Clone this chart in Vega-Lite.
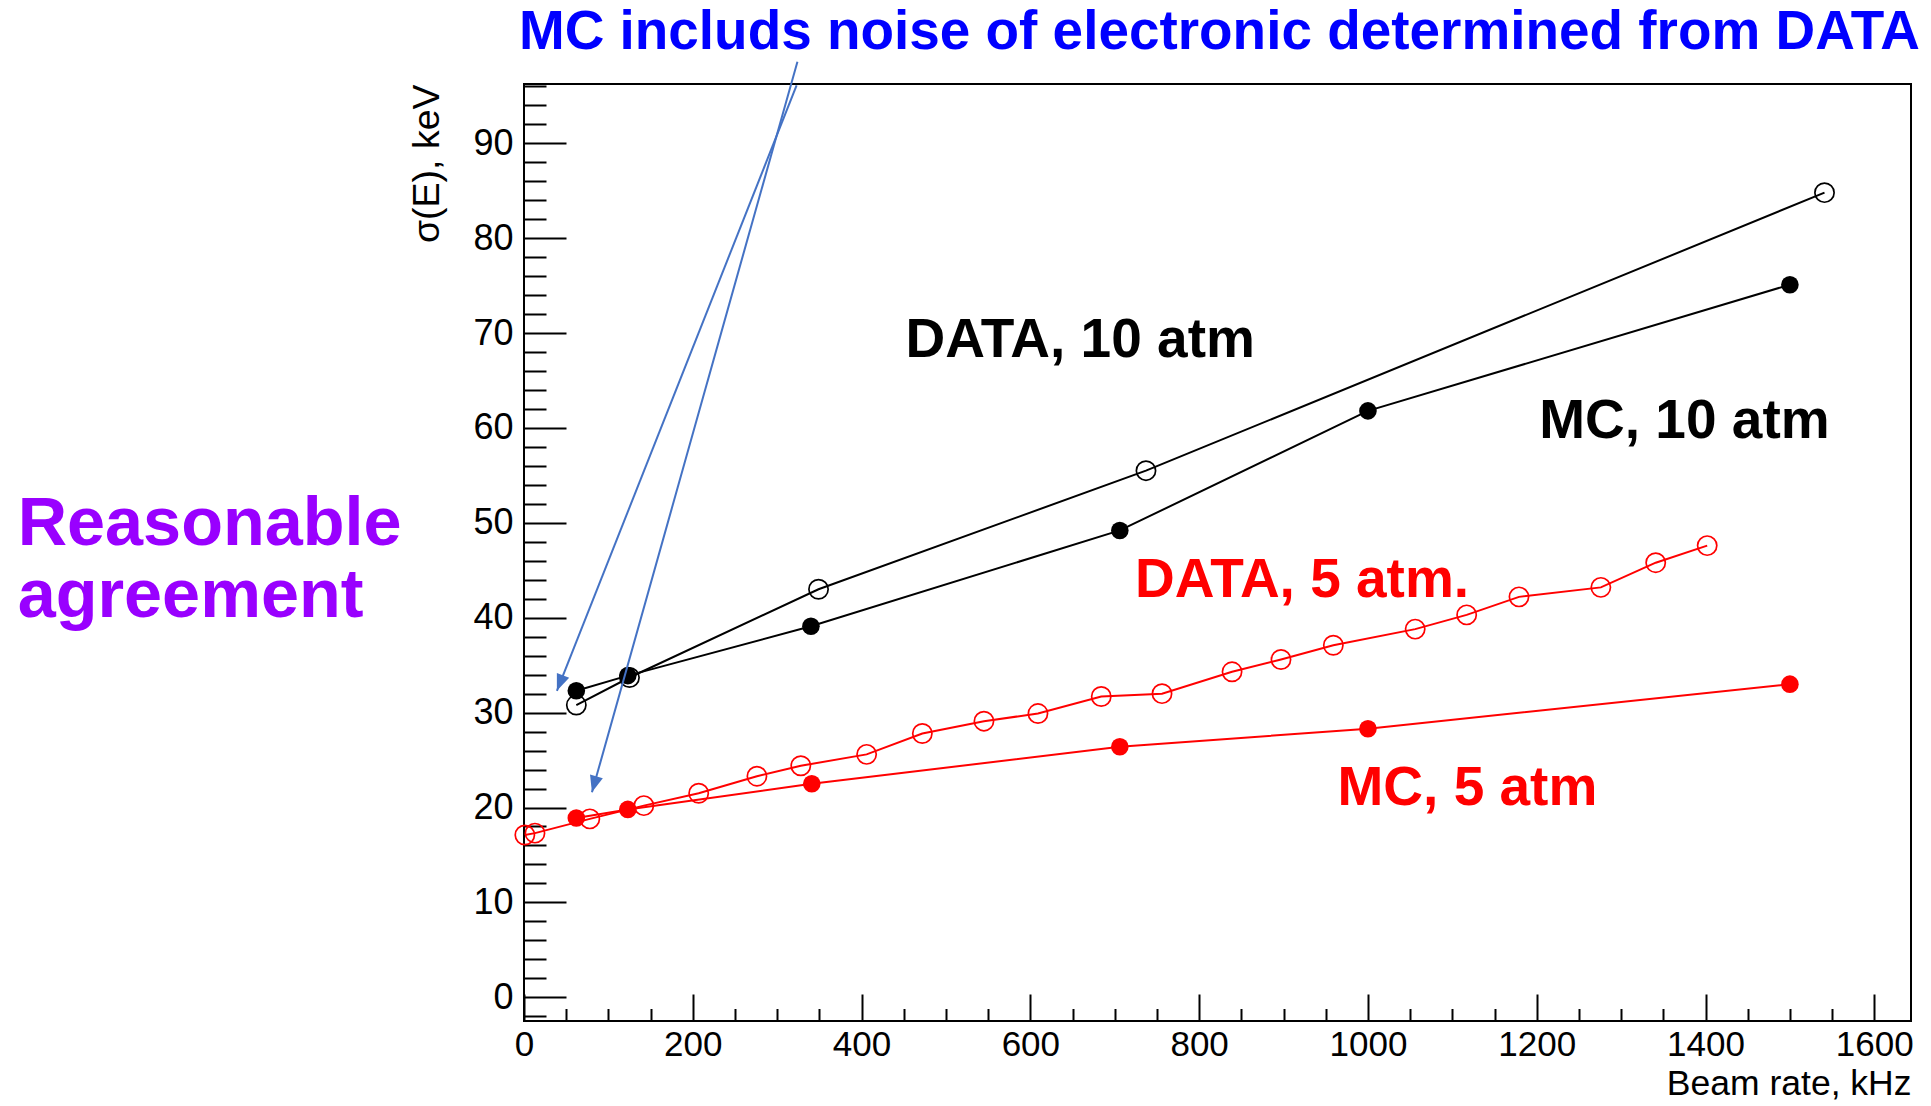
{
  "$schema": "https://vega.github.io/schema/vega-lite/v6.json",
  "width": 1387,
  "height": 937,
  "autosize": {"type": "none"},
  "padding": {"left": 524, "top": 84, "right": 20, "bottom": 85},
  "background": "white",
  "config": {
    "view": {"stroke": "#000000", "strokeWidth": 2},
    "axis": {"grid": false},
    "font": "Liberation Sans"
  },
  "datasets": {
    "points": [
      {"series": "DATA, 10 atm", "kind": "DATA", "gas": "10 atm", "rate": 62, "sigma": 30.8},
      {"series": "DATA, 10 atm", "kind": "DATA", "gas": "10 atm", "rate": 125, "sigma": 33.7},
      {"series": "DATA, 10 atm", "kind": "DATA", "gas": "10 atm", "rate": 349, "sigma": 43.0},
      {"series": "DATA, 10 atm", "kind": "DATA", "gas": "10 atm", "rate": 737, "sigma": 55.5},
      {"series": "DATA, 10 atm", "kind": "DATA", "gas": "10 atm", "rate": 1541, "sigma": 84.8},
      {"series": "MC, 10 atm", "kind": "MC", "gas": "10 atm", "rate": 62, "sigma": 32.3},
      {"series": "MC, 10 atm", "kind": "MC", "gas": "10 atm", "rate": 123, "sigma": 33.9},
      {"series": "MC, 10 atm", "kind": "MC", "gas": "10 atm", "rate": 340, "sigma": 39.1},
      {"series": "MC, 10 atm", "kind": "MC", "gas": "10 atm", "rate": 706, "sigma": 49.2},
      {"series": "MC, 10 atm", "kind": "MC", "gas": "10 atm", "rate": 1000, "sigma": 61.8},
      {"series": "MC, 10 atm", "kind": "MC", "gas": "10 atm", "rate": 1500, "sigma": 75.1},
      {"series": "DATA, 5 atm", "kind": "DATA", "gas": "5 atm", "rate": 1, "sigma": 17.1},
      {"series": "DATA, 5 atm", "kind": "DATA", "gas": "5 atm", "rate": 13, "sigma": 17.3},
      {"series": "DATA, 5 atm", "kind": "DATA", "gas": "5 atm", "rate": 78, "sigma": 18.8},
      {"series": "DATA, 5 atm", "kind": "DATA", "gas": "5 atm", "rate": 142, "sigma": 20.2},
      {"series": "DATA, 5 atm", "kind": "DATA", "gas": "5 atm", "rate": 207, "sigma": 21.5},
      {"series": "DATA, 5 atm", "kind": "DATA", "gas": "5 atm", "rate": 276, "sigma": 23.3},
      {"series": "DATA, 5 atm", "kind": "DATA", "gas": "5 atm", "rate": 328, "sigma": 24.4},
      {"series": "DATA, 5 atm", "kind": "DATA", "gas": "5 atm", "rate": 406, "sigma": 25.6},
      {"series": "DATA, 5 atm", "kind": "DATA", "gas": "5 atm", "rate": 472, "sigma": 27.8},
      {"series": "DATA, 5 atm", "kind": "DATA", "gas": "5 atm", "rate": 545, "sigma": 29.1},
      {"series": "DATA, 5 atm", "kind": "DATA", "gas": "5 atm", "rate": 609, "sigma": 29.9},
      {"series": "DATA, 5 atm", "kind": "DATA", "gas": "5 atm", "rate": 684, "sigma": 31.7},
      {"series": "DATA, 5 atm", "kind": "DATA", "gas": "5 atm", "rate": 756, "sigma": 32.0},
      {"series": "DATA, 5 atm", "kind": "DATA", "gas": "5 atm", "rate": 839, "sigma": 34.3},
      {"series": "DATA, 5 atm", "kind": "DATA", "gas": "5 atm", "rate": 897, "sigma": 35.6},
      {"series": "DATA, 5 atm", "kind": "DATA", "gas": "5 atm", "rate": 959, "sigma": 37.1},
      {"series": "DATA, 5 atm", "kind": "DATA", "gas": "5 atm", "rate": 1056, "sigma": 38.8},
      {"series": "DATA, 5 atm", "kind": "DATA", "gas": "5 atm", "rate": 1117, "sigma": 40.3},
      {"series": "DATA, 5 atm", "kind": "DATA", "gas": "5 atm", "rate": 1179, "sigma": 42.2},
      {"series": "DATA, 5 atm", "kind": "DATA", "gas": "5 atm", "rate": 1276, "sigma": 43.2},
      {"series": "DATA, 5 atm", "kind": "DATA", "gas": "5 atm", "rate": 1341, "sigma": 45.8},
      {"series": "DATA, 5 atm", "kind": "DATA", "gas": "5 atm", "rate": 1402, "sigma": 47.6},
      {"series": "MC, 5 atm", "kind": "MC", "gas": "5 atm", "rate": 62, "sigma": 18.9},
      {"series": "MC, 5 atm", "kind": "MC", "gas": "5 atm", "rate": 123, "sigma": 19.8},
      {"series": "MC, 5 atm", "kind": "MC", "gas": "5 atm", "rate": 341, "sigma": 22.5},
      {"series": "MC, 5 atm", "kind": "MC", "gas": "5 atm", "rate": 706, "sigma": 26.4},
      {"series": "MC, 5 atm", "kind": "MC", "gas": "5 atm", "rate": 1000, "sigma": 28.3},
      {"series": "MC, 5 atm", "kind": "MC", "gas": "5 atm", "rate": 1500, "sigma": 33.0}
    ],
    "labels": [
      {"text": "DATA, 10 atm", "rate": 452, "sigma": 67.5, "gas": "10 atm"},
      {"text": "MC, 10 atm", "rate": 1203, "sigma": 58.9, "gas": "10 atm"},
      {"text": "DATA, 5 atm.", "rate": 724, "sigma": 42.2, "gas": "5 atm"},
      {"text": "MC, 5 atm", "rate": 964, "sigma": 20.3, "gas": "5 atm"}
    ],
    "notes": [
      {"note": "agreement", "text": "Reasonable", "rate": -600, "sigma": 47.67},
      {"note": "agreement", "text": "agreement", "rate": -600, "sigma": 40.1},
      {"note": "title", "text": "MC includs noise of electronic determined from DATA", "rate": -6, "sigma": 99.9}
    ],
    "arrows": [
      {"arrow": 1, "start_rate": 323, "start_sigma": 96.1, "tip_rate": 39, "tip_sigma": 32.3},
      {"arrow": 2, "start_rate": 324, "start_sigma": 98.6, "tip_rate": 80.5, "tip_sigma": 21.6}
    ]
  },
  "resolve": {"axis": {"x": "independent", "y": "independent"}},
  "layer": [
    {
      "data": {"name": "points"},
      "mark": {"type": "line", "strokeWidth": 2},
      "encoding": {
        "x": {
          "field": "rate", "type": "quantitative",
          "scale": {"domain": [0, 1643.5], "nice": false, "zero": false},
          "axis": {
            "orient": "bottom",
            "values": [0, 200, 400, 600, 800, 1000, 1200, 1400, 1600],
            "format": "d",
            "ticks": false, "domain": false,
            "labelFontSize": 35, "labelFont": "Liberation Sans", "labelColor": "#000000",
            "labelPadding": 6, "labelFlush": false, "labelOverlap": false,
            "title": "Beam rate, kHz", "titleAnchor": "end", "titleFontSize": 35.5,
            "titleFont": "Liberation Sans", "titleFontWeight": "normal", "titleColor": "#000000",
            "titlePadding": 4
          }
        },
        "y": {
          "field": "sigma", "type": "quantitative",
          "scale": {"domain": [-2.5, 96.25], "nice": false, "zero": false},
          "axis": {
            "orient": "left",
            "values": [0, 10, 20, 30, 40, 50, 60, 70, 80, 90],
            "format": "d",
            "ticks": false, "domain": false,
            "labelFontSize": 36, "labelFont": "Liberation Sans", "labelColor": "#000000",
            "labelPadding": 11, "labelFlush": false, "labelOverlap": false,
            "title": "σ(E), keV", "titleAnchor": "end", "titleFontSize": 37.5,
            "titleFont": "Liberation Sans", "titleFontWeight": "normal", "titleColor": "#000000",
            "titlePadding": 26
          }
        },
        "color": {
          "field": "gas", "type": "nominal",
          "scale": {"domain": ["10 atm", "5 atm"], "range": ["#000000", "#FF0000"]},
          "legend": null
        },
        "detail": {"field": "series"}
      }
    },
    {
      "data": {"name": "points"},
      "transform": [{"filter": "datum.kind === 'DATA'"}],
      "mark": {"type": "point", "shape": "circle", "filled": false, "size": 370, "strokeWidth": 1.7, "opacity": 1},
      "encoding": {
        "x": {
          "field": "rate", "type": "quantitative",
          "axis": {
            "orient": "bottom",
            "values": [0, 200, 400, 600, 800, 1000, 1200, 1400, 1600],
            "labels": false, "domain": false, "ticks": true,
            "tickSize": 27, "offset": -27, "tickColor": "#000000", "tickWidth": 2,
            "title": null
          }
        },
        "y": {
          "field": "sigma", "type": "quantitative",
          "axis": {
            "orient": "left",
            "values": [0, 10, 20, 30, 40, 50, 60, 70, 80, 90],
            "labels": false, "domain": false, "ticks": true,
            "tickSize": 42, "offset": -42, "tickColor": "#000000", "tickWidth": 2,
            "title": null
          }
        },
        "color": {"field": "gas", "type": "nominal", "legend": null}
      }
    },
    {
      "data": {"name": "points"},
      "transform": [{"filter": "datum.kind === 'MC'"}],
      "mark": {"type": "point", "shape": "circle", "filled": true, "size": 310, "opacity": 1},
      "encoding": {
        "x": {
          "field": "rate", "type": "quantitative",
          "axis": {
            "orient": "bottom",
            "values": [50, 100, 150, 250, 300, 350, 450, 500, 550, 650, 700, 750, 850, 900, 950, 1050, 1100, 1150, 1250, 1300, 1350, 1450, 1500, 1550],
            "labels": false, "domain": false, "ticks": true,
            "tickSize": 12.5, "offset": -12.5, "tickColor": "#000000", "tickWidth": 2,
            "title": null
          }
        },
        "y": {
          "field": "sigma", "type": "quantitative",
          "axis": {
            "orient": "left",
            "values": [-2, 2, 4, 6, 8, 12, 14, 16, 18, 22, 24, 26, 28, 32, 34, 36, 38, 42, 44, 46, 48, 52, 54, 56, 58, 62, 64, 66, 68, 72, 74, 76, 78, 82, 84, 86, 88, 92, 94, 96],
            "labels": false, "domain": false, "ticks": true,
            "tickSize": 22, "offset": -22, "tickColor": "#000000", "tickWidth": 2,
            "title": null
          }
        },
        "color": {"field": "gas", "type": "nominal", "legend": null}
      }
    },
    {
      "data": {"name": "labels"},
      "mark": {"type": "text", "align": "left", "baseline": "alphabetic", "fontSize": 55, "fontWeight": "bold", "font": "Liberation Sans"},
      "encoding": {
        "x": {"field": "rate", "type": "quantitative", "axis": null},
        "y": {"field": "sigma", "type": "quantitative", "axis": null},
        "text": {"field": "text"},
        "color": {"field": "gas", "type": "nominal", "legend": null}
      }
    },
    {
      "data": {"name": "notes"},
      "transform": [{"filter": "datum.note === 'agreement'"}],
      "mark": {"type": "text", "align": "left", "baseline": "alphabetic", "fontSize": 68.4, "fontWeight": "bold", "font": "Liberation Sans", "color": "#9900FF"},
      "encoding": {
        "x": {"field": "rate", "type": "quantitative", "axis": null},
        "y": {"field": "sigma", "type": "quantitative", "axis": null},
        "text": {"field": "text"}
      }
    },
    {
      "data": {"name": "notes"},
      "transform": [{"filter": "datum.note === 'title'"}],
      "mark": {"type": "text", "align": "left", "baseline": "alphabetic", "fontSize": 54.9, "fontWeight": "bold", "font": "Liberation Sans", "color": "#0000FF"},
      "encoding": {
        "x": {"field": "rate", "type": "quantitative", "axis": null},
        "y": {"field": "sigma", "type": "quantitative", "axis": null},
        "text": {"field": "text"}
      }
    },
    {
      "data": {"name": "arrows"},
      "mark": {"type": "rule", "color": "#4472C4", "strokeWidth": 2},
      "encoding": {
        "x": {"field": "start_rate", "type": "quantitative", "axis": null},
        "y": {"field": "start_sigma", "type": "quantitative", "axis": null},
        "x2": {"field": "tip_rate"},
        "y2": {"field": "tip_sigma"}
      }
    },
    {
      "data": {"name": "arrows"},
      "transform": [{"filter": "datum.arrow === 1"}],
      "mark": {"type": "point", "shape": "M0,0 L-0.4,-1 L0.4,-1 Z", "filled": true, "size": 1100, "angle": 21.6, "color": "#4472C4", "opacity": 1},
      "encoding": {
        "x": {"field": "tip_rate", "type": "quantitative", "axis": null},
        "y": {"field": "tip_sigma", "type": "quantitative", "axis": null}
      }
    },
    {
      "data": {"name": "arrows"},
      "transform": [{"filter": "datum.arrow === 2"}],
      "mark": {"type": "point", "shape": "M0,0 L-0.4,-1 L0.4,-1 Z", "filled": true, "size": 1100, "angle": 15.7, "color": "#4472C4", "opacity": 1},
      "encoding": {
        "x": {"field": "tip_rate", "type": "quantitative", "axis": null},
        "y": {"field": "tip_sigma", "type": "quantitative", "axis": null}
      }
    }
  ]
}
